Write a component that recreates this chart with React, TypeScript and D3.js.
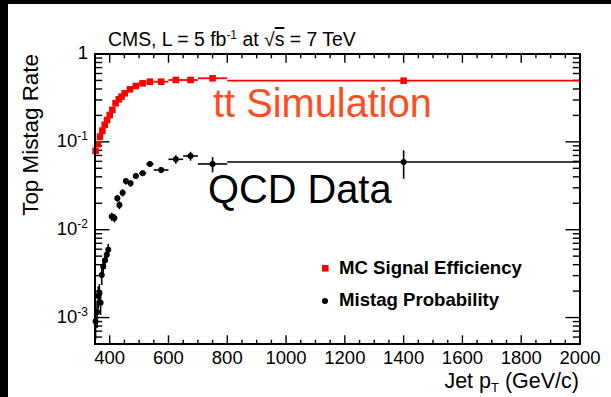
import React from "react";
import * as d3 from "d3";

// MC signal efficiency (top-tagged jets in tt simulation)
const sigPt = [352, 360, 367, 375, 383, 391, 400, 409, 420, 431, 440, 451, 469, 489, 512, 537, 575, 625, 675, 750, 1400];
const sigEff = [0.079, 0.0945, 0.1145, 0.134, 0.156, 0.177, 0.202, 0.231, 0.275, 0.305, 0.327, 0.357, 0.396, 0.432, 0.464, 0.484, 0.484, 0.506, 0.506, 0.529, 0.497];
const sigHalfW = [2, 4, 4, 4, 4, 4, 4, 5, 5, 5, 5, 6, 10, 10, 12.5, 12.5, 25, 25, 25, 50, 600];

// Mistag probability measured in QCD data
const qcdPt = [352, 357, 361, 365, 369, 373, 378, 384, 390, 395, 407, 416, 426, 433, 444, 455, 471, 489, 512, 537, 575, 625, 675, 750, 1400];
const qcdRate = [0.00091, 0.00116, 0.00176, 0.0019, 0.00147, 0.00305, 0.0038, 0.0045, 0.0052, 0.0059, 0.0141, 0.0136, 0.0228, 0.0191, 0.0264, 0.0358, 0.0337, 0.0408, 0.0439, 0.056, 0.0478, 0.0633, 0.069, 0.056, 0.059];
const qcdErr = [0.00035, 0.0004, 0.0005, 0.0005, 0.0004, 0.0007, 0.0008, 0.0009, 0.0009, 0.001, 0.0015, 0.0015, 0.002, 0.002, 0.0025, 0.003, 0.003, 0.003, 0.003, 0.004, 0.004, 0.007, 0.008, 0.011, 0.021];
const qcdHalfW = [2, 2, 2, 2, 2, 2, 3, 3, 3, 3, 5, 5, 5, 5, 6, 6, 8, 10, 12.5, 12.5, 25, 25, 25, 50, 600];

const xMajorTicks = [400, 600, 800, 1000, 1200, 1400, 1600, 1800, 2000];
const yMajorTicks = [1e-3, 1e-2, 1e-1, 1];
const yTickExp = [-3, -2, -1, 0];

const W = 611;
const H = 397;
const L = 95, R = 580, T = 54, B = 344;
const FONT = "'Liberation Sans', Arial, Helvetica, sans-serif";

export default function App() {
  const x = d3.scaleLinear().domain([350, 2000]).range([L, R]);
  const y = d3.scaleLog().domain([5e-4, 1]).range([B, T]);

  const xMinor = d3.range(350, 2001, 50).filter((v) => v % 200 !== 0);
  const yMinor: number[] = [];
  for (const dec of [1e-4, 1e-3, 1e-2, 1e-1]) {
    for (let k = 2; k <= 9; k++) {
      const v = k * dec;
      if (v >= 5e-4 && v < 1) yMinor.push(v);
    }
  }

  const xMajLen = 8.7, xMinLen = 4.3;
  const yMajLen = 14.5, yMinLen = 7.2;

  return (
    <svg width={W} height={H} style={{ position: "absolute", left: 0, top: 0, background: "#fff" }} fontFamily={FONT}>
      <rect x={0} y={0} width={W} height={H} fill="#fff" />
      <rect x={0} y={0} width={8} height={H} fill="#000" />
      <rect x={0} y={0} width={W} height={4} fill="#000" />

      {/* title */}
      <text x={108} y={46} fontSize={19.4} fill="#000">
        CMS, L = 5 fb<tspan dy={-7} fontSize={12}>-1</tspan>
        <tspan dy={7}> at </tspan>
        <tspan>√</tspan>
        <tspan style={{ textDecoration: "overline" }}>s</tspan>
        <tspan> = 7 TeV</tspan>
      </text>

      {/* ticks */}
      <g stroke="#000" strokeWidth={1.4}>
        {xMajorTicks.map((v) => (
          <g key={"xm" + v}>
            <line x1={x(v)} x2={x(v)} y1={B} y2={B - xMajLen} />
            <line x1={x(v)} x2={x(v)} y1={T} y2={T + xMajLen} />
          </g>
        ))}
        {xMinor.map((v) => (
          <g key={"xn" + v}>
            <line x1={x(v)} x2={x(v)} y1={B} y2={B - xMinLen} />
            <line x1={x(v)} x2={x(v)} y1={T} y2={T + xMinLen} />
          </g>
        ))}
        {yMajorTicks.map((v) => (
          <g key={"ym" + v}>
            <line x1={L} x2={L + yMajLen} y1={y(v)} y2={y(v)} />
            <line x1={R} x2={R - yMajLen} y1={y(v)} y2={y(v)} />
          </g>
        ))}
        {yMinor.map((v) => (
          <g key={"yn" + v}>
            <line x1={L} x2={L + yMinLen} y1={y(v)} y2={y(v)} />
            <line x1={R} x2={R - yMinLen} y1={y(v)} y2={y(v)} />
          </g>
        ))}
      </g>

      {/* tick labels */}
      {xMajorTicks.map((v) => (
        <text key={"xl" + v} x={x(v)} y={364} fontSize={18.5} textAnchor="middle" fill="#000">
          {v}
        </text>
      ))}
      {yMajorTicks.map((v, i) =>
        yTickExp[i] === 0 ? (
          <text key={"yl" + v} x={88} y={y(v) + 5} fontSize={18.5} textAnchor="end" fill="#000">
            1
          </text>
        ) : (
          <text key={"yl" + v} x={88} y={y(v) + 5} fontSize={18.5} textAnchor="end" fill="#000">
            10<tspan dy={-7} fontSize={12}>{yTickExp[i]}</tspan>
          </text>
        )
      )}

      {/* axis titles */}
      <text x={579} y={388} fontSize={21.5} textAnchor="end" fill="#000">
        Jet p<tspan dy={4} fontSize={13}>T</tspan>
        <tspan dy={-4}> (GeV/c)</tspan>
      </text>
      <text transform={`translate(38,${T}) rotate(-90)`} fontSize={22.4} textAnchor="end" fill="#000">
        Top Mistag Rate
      </text>

      {/* QCD mistag probability */}
      <g stroke="#000" strokeWidth={1.6}>
        {qcdPt.map((p, i) => (
          <g key={"q" + i}>
            <line x1={x(p - qcdHalfW[i])} x2={x(Math.min(2000, p + qcdHalfW[i]))} y1={y(qcdRate[i])} y2={y(qcdRate[i])} />
            <line x1={x(p)} x2={x(p)} y1={y(qcdRate[i] + qcdErr[i])} y2={y(Math.max(5e-4, qcdRate[i] - qcdErr[i]))} />
          </g>
        ))}
      </g>
      {qcdPt.map((p, i) => (
        <circle key={"qc" + i} cx={x(p)} cy={y(qcdRate[i])} r={3} fill="#000" />
      ))}

      {/* tt simulation efficiency */}
      <g stroke="#ff0000" strokeWidth={1.8}>
        {sigPt.map((p, i) => (
          <line key={"s" + i} x1={x(p - sigHalfW[i])} x2={x(Math.min(2000, p + sigHalfW[i]))} y1={y(sigEff[i])} y2={y(sigEff[i])} />
        ))}
      </g>
      {sigPt.map((p, i) => (
        <rect key={"sr" + i} x={x(p) - 3.3} y={y(sigEff[i]) - 3.3} width={6.6} height={6.6} fill="#ff0000" />
      ))}

      {/* frame */}
      <rect x={L} y={T} width={R - L} height={B - T} fill="none" stroke="#000" strokeWidth={2} />

      {/* annotations */}
      <text x={213} y={117} fontSize={39.8} fill="#ff4d1f">
        tt Simulation
      </text>
      <text x={208} y={203} fontSize={39.8} fill="#000">
        QCD Data
      </text>

      {/* legend */}
      <rect x={322} y={265} width={6.6} height={6.6} fill="#ff0000" />
      <text x={339} y={274} fontSize={18.6} fontWeight="bold" fill="#000">
        MC Signal Efficiency
      </text>
      <circle cx={325} cy={301} r={3} fill="#000" />
      <text x={339} y={306} fontSize={18.6} fontWeight="bold" fill="#000">
        Mistag Probability
      </text>
    </svg>
  );
}
